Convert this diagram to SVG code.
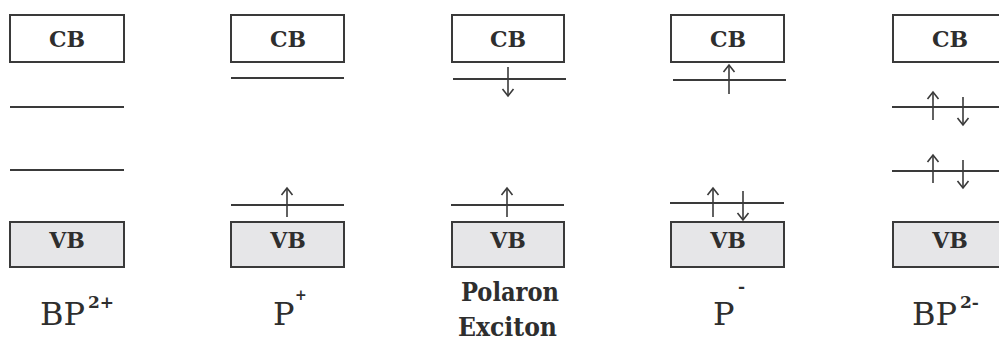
<svg xmlns="http://www.w3.org/2000/svg" width="999" height="342" viewBox="0 0 999 342">
  <style>
    .cb { fill: #ffffff; stroke: #3a3a3a; stroke-width: 2; }
    .vb { fill: #e6e6e8; stroke: #3a3a3a; stroke-width: 2; }
    .lvl { stroke: #3a3a3a; stroke-width: 2; fill: none; }
    .arr { stroke: #3a3a3a; stroke-width: 1.6; fill: none; marker-end: url(#head); }
    .bt { font-family: "DejaVu Serif", serif; font-weight: bold; font-size: 22px; fill: #2e2e2e; text-anchor: middle; }
    .lab { font-family: "DejaVu Serif", serif; font-size: 32px; fill: #2e2e2e; }
    .sup { font-family: "DejaVu Serif", serif; font-weight: bold; font-size: 17px; fill: #2e2e2e; }
    .sup2 { font-family: "DejaVu Serif", serif; font-weight: bold; font-size: 14px; fill: #2e2e2e; }
    .pe { font-family: "DejaVu Serif Condensed", "DejaVu Serif", serif; font-weight: bold; font-size: 26px; fill: #2e2e2e; }
  </style>
  <defs>
    <marker id="head" markerUnits="userSpaceOnUse" viewBox="-8 -7 10 14" refX="0" refY="0" markerWidth="10" markerHeight="14" orient="auto">
      <path d="M-7,-5.5 L0,0 L-7,5.5" fill="none" stroke="#3a3a3a" stroke-width="1.6"/>
    </marker>
  </defs>
  <rect width="999" height="342" fill="#ffffff"/>

  <g id="bp2plus">
    <rect class="cb" x="10" y="15" width="114" height="47"/>
    <text class="bt" x="67" y="47">CB</text>
    <line class="lvl" x1="10" y1="107" x2="124" y2="107"/>
    <line class="lvl" x1="10" y1="170" x2="124" y2="170"/>
    <rect class="vb" x="10" y="222" width="114" height="45"/>
    <text class="bt" x="67" y="248">VB</text>
    <text class="lab" x="40" y="325">BP</text>
    <text class="sup" x="88" y="308">2+</text>
  </g>

  <g id="pplus">
    <rect class="cb" x="231" y="15" width="113" height="47"/>
    <text class="bt" x="288" y="47">CB</text>
    <line class="lvl" x1="231" y1="78" x2="344" y2="78"/>
    <line class="lvl" x1="231" y1="205" x2="344" y2="205"/>
    <rect class="vb" x="231" y="222" width="113" height="45"/>
    <text class="bt" x="288" y="248">VB</text>
    <text class="lab" x="273" y="325">P</text>
    <text class="sup2" x="295" y="300">+</text>
  </g>

  <g id="polaron-exciton">
    <rect class="cb" x="452" y="15" width="112" height="47"/>
    <text class="bt" x="508" y="47">CB</text>
    <line class="lvl" x1="453" y1="79" x2="566" y2="79"/>
    <line class="lvl" x1="451" y1="205" x2="564" y2="205"/>
    <rect class="vb" x="452" y="222" width="112" height="45"/>
    <text class="bt" x="508" y="248">VB</text>
    <text class="pe" x="461" y="301" textLength="98" lengthAdjust="spacingAndGlyphs">Polaron</text>
    <text class="pe" x="458" y="336" textLength="99" lengthAdjust="spacingAndGlyphs">Exciton</text>
  </g>

  <g id="pminus">
    <rect class="cb" x="671" y="15" width="113" height="47"/>
    <text class="bt" x="728" y="47">CB</text>
    <line class="lvl" x1="673" y1="80" x2="786" y2="80"/>
    <line class="lvl" x1="670" y1="203" x2="784" y2="203"/>
    <rect class="vb" x="671" y="222" width="113" height="45"/>
    <text class="bt" x="728" y="248">VB</text>
    <text class="lab" x="713" y="325">P</text>
    <text class="sup" x="738" y="292">-</text>
  </g>

  <g id="bp2minus">
    <rect class="cb" x="893" y="15" width="113" height="47"/>
    <text class="bt" x="950" y="47">CB</text>
    <line class="lvl" x1="892" y1="107" x2="999" y2="107"/>
    <line class="lvl" x1="892" y1="171" x2="999" y2="171"/>
    <rect class="vb" x="893" y="222" width="113" height="45"/>
    <text class="bt" x="950" y="248">VB</text>
    <text class="lab" x="912" y="325">BP</text>
    <text class="sup" x="960" y="308">2-</text>
  </g>

  <g id="connectors">
    <line class="arr" x1="287" y1="217" x2="287" y2="188"/>
    <line class="arr" x1="508" y1="67" x2="508" y2="96"/>
    <line class="arr" x1="507" y1="217" x2="507" y2="188"/>
    <line class="arr" x1="729" y1="94" x2="729" y2="65"/>
    <line class="arr" x1="713" y1="217" x2="713" y2="188"/>
    <line class="arr" x1="743" y1="191" x2="743" y2="220"/>
    <line class="arr" x1="933" y1="120" x2="933" y2="92"/>
    <line class="arr" x1="963" y1="97" x2="963" y2="125"/>
    <line class="arr" x1="933" y1="183" x2="933" y2="155"/>
    <line class="arr" x1="963" y1="160" x2="963" y2="188"/>
  </g>
</svg>
